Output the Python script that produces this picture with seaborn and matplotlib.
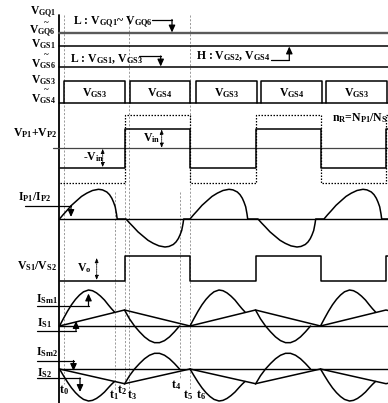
import matplotlib
matplotlib.use("Agg")
import matplotlib.pyplot as plt
import seaborn as sns

# ---------------- data (pixel-space diagram coordinates) ----------------
# switching instants of the half bridges
edges = [59.5, 125, 190, 255.5, 320.5, 386, 388]
vp_state = [-1, 1, -1, 1, -1, 1]          # primary voltage polarity per interval
# gate pulse boxes
box_start = [64, 129.5, 196, 261, 326]
box_end = [125, 190, 257, 322, 387]
box_labels = ["GS3", "GS4", "GS3", "GS4", "GS3"]
# primary current lobes
ip_start = [59.5, 126, 190, 258, 324]
ip_sign = [1, -1, 1, -1, 1]
ip_amp = [29.7, 28, 29.7, 28, 29.7]
ip_dx = [0, 3.5, 7.3, 12, 17.3, 22, 27.3, 33, 39, 43, 47.3, 50, 52.3, 54, 55.7, 57, 57.7]
ip_frac = [0, .14, .28, .46, .62, .76, .87, .96, 1, .98, .91, .82, .70, .57, .41, .17, 0]
# secondary currents: magnetising triangle and resonant lobes
tri_x = [59.5, 124.5, 190, 255.5, 320.5, 386, 388]
tri_frac = [0, 1, 0, 1, 0, 1, 0.97]
main_start = [59.5, 190, 320.5]
small_start = [124.5, 255.5]
ms_dx = [0, 4, 8, 12, 16, 20, 24, 29, 33, 37, 41, 45, 49, 52, 55]
ms_frac = [0, .21, .41, .59, .74, .86, .95, 1, .98, .92, .83, .72, .58, .48, .39]
ss_dx = [0, 5, 10, 15, 20, 25, 30, 35, 40, 45, 50, 55]
ss_frac = [.94, .42, 0, -.34, -.64, -.86, -.98, -.98, -.86, -.64, -.34, 0]
# time markers
t_names = ["0", "1", "2", "3", "4", "5", "6"]
t_label_x = [64, 114, 122, 132, 176, 188, 201]
t_label_y = [390, 395.5, 390, 395.5, 385, 395.5, 395.5]
dash_x = [64, 114.5, 124.5, 129.3, 180, 190]
dash_top = [15, 192, 183, 15, 192, 15]
dash_bot = [384, 390, 384, 389, 379, 389]

# levels
Y_GQ, Y_GS1, Y_GS6 = 33.3, 45.7, 67.3
G_TOP, G_BASE = 80.7, 102.7
VP_ZERO, VP_HI, VP_LO, VP_DHI, VP_DLO = 148.3, 129, 167.7, 115, 182.7
IP_ZERO = 219
VS_HI, VS_LO = 256, 280.7
IS1_ZERO, IS2_ZERO = 326, 369
IS1_TRI, IS2_TRI = 16, 14.7
IS1_AMP, IS2_AMP = 36, 32
IS1_SAMP, IS2_SAMP = 17, 16

# ---------------- style ----------------
sns.set_theme(style="white")
plt.rcParams["font.family"] = ["Liberation Serif", "DejaVu Serif"]
plt.rcParams["font.weight"] = "bold"
plt.rcParams["mathtext.fontset"] = "custom"
plt.rcParams["mathtext.rm"] = "Liberation Serif:bold"
plt.rcParams["mathtext.bf"] = "Liberation Serif:bold"
plt.rcParams["mathtext.it"] = "Liberation Serif:bold"

fig = plt.figure(figsize=(3.88, 4.03), dpi=100)
ax = fig.add_axes([0, 0, 1, 1])
ax.set_xlim(0, 388)
ax.set_ylim(403, 0)
ax.axis("off")

LW = 1.0
FS = 8.5


def line(xs, ys, **kw):
    kw.setdefault("color", "black")
    kw.setdefault("linewidth", LW)
    sns.lineplot(x=xs, y=ys, sort=False, estimator=None, ax=ax, **kw)


def steps(edg, levels):
    xs, ys = [], []
    for i, lv in enumerate(levels):
        xs += [edg[i], edg[i + 1]]
        ys += [lv, lv]
    return xs, ys


def arrow(x, y0, y1, ls="-"):
    ax.annotate("", xy=(x, y1), xytext=(x, y0),
                arrowprops=dict(arrowstyle="-|>,head_length=0.35,head_width=0.16",
                                color="black", lw=0.9, ls=ls, shrinkA=0, shrinkB=0))


def darrow(x, y0, y1):
    ax.annotate("", xy=(x, y1), xytext=(x, y0),
                arrowprops=dict(arrowstyle="<|-|>,head_length=0.22,head_width=0.09",
                                color="black", lw=0.6, ls=(0, (1, 1)), shrinkA=0, shrinkB=0))


def txt(x, y, s, ha="center", fs=FS):
    ax.text(x, y, s, ha=ha, va="center", fontsize=fs, fontweight="bold", color="black")


# vertical time axis
line([59.3, 59.3], [15, 403], linewidth=1.3)

# dashed time markers
for x, a, b in zip(dash_x, dash_top, dash_bot):
    ax.plot([x, x], [a, b], color="#8a8a8a", lw=0.6, ls=(0, (2.5, 2)))

# ---- gate rows ----
line([59, 388], [Y_GQ, Y_GQ], color="#5a5a5a", linewidth=1.7)
line([59, 388], [Y_GS1, Y_GS1], linewidth=1.1)
line([59, 388], [Y_GS6, Y_GS6], linewidth=1.1)
line([59, 388], [G_BASE, G_BASE], linewidth=1.1)
for a, b, lab in zip(box_start, box_end, box_labels):
    line([a, a, b, b], [G_BASE, G_TOP, G_TOP, G_BASE], linewidth=1.1)
    txt((a + b) / 2, 93, r"$\mathbf{V_{%s}}$" % lab)

for y, s in [(12.5, "GQ1"), (31, "GQ6"), (44, "GS1"), (64, "GS6"), (80.5, "GS3"), (99.5, "GS4")]:
    txt(56, y, r"$\mathbf{V_{%s}}$" % s, ha="right", fs=8.3)
for y in [23, 55.5, 90]:
    txt(46.5, y, "~", fs=6.5)

txt(73, 22.5, r"L : $\mathbf{V_{GQ1}}$~ $\mathbf{V_{GQ6}}$", ha="left")
line([152, 172], [19.5, 19.5], linewidth=0.9)
arrow(172, 19.5, 32.5)
txt(70, 59.3, r"L : $\mathbf{V_{GS1}}$, $\mathbf{V_{GS3}}$", ha="left")
line([139, 160.7], [56, 56], linewidth=0.9)
arrow(160.7, 56, 66.5)
txt(196, 56.5, r"H : $\mathbf{V_{GS2}}$, $\mathbf{V_{GS4}}$", ha="left")
line([271, 289.3], [60, 60], linewidth=0.9)
arrow(289.3, 60, 46.5)

# ---- primary voltage ----
line([53, 388], [VP_ZERO, VP_ZERO], color="#444444", linewidth=0.9)
xs, ys = steps(edges, [VP_HI if s > 0 else VP_LO for s in vp_state])
line(xs, ys, linewidth=1.1)
xs, ys = steps(edges, [VP_DHI if s > 0 else VP_DLO for s in vp_state])
line(xs, ys, linewidth=0.9, linestyle=(0, (1.2, 1.2)))
txt(13, 133, r"$\mathbf{V_{P1}}$+$\mathbf{V_{P2}}$", ha="left")
txt(152, 138.5, r"$\mathbf{V_{in}}$")
darrow(161.7, 129.5, 147.8)
txt(94, 157.5, r"-$\mathbf{V_{in}}$")
darrow(102.7, 148.8, 167.2)
txt(332, 118.5, r"$\mathbf{n_R}$=$\mathbf{N_{P1}}$/$\mathbf{N_{S1}}$", ha="left")

# ---- primary current ----
line([59, 388], [IP_ZERO, IP_ZERO], linewidth=1.0)
xs, ys = [], []
for s, sg, amp in zip(ip_start, ip_sign, ip_amp):
    for dx, f in zip(ip_dx, ip_frac):
        xs.append(s + dx)
        ys.append(IP_ZERO - sg * amp * f)
xs.append(388)
ys.append(IP_ZERO)
line(xs, ys, linewidth=1.1)
txt(18, 197, r"$\mathbf{I_{P1}}$/$\mathbf{I_{P2}}$", ha="left")
line([25, 71], [205.7, 205.7], linewidth=0.9)
arrow(71, 205.7, 217)

# ---- secondary voltage ----
xs, ys = steps(edges, [VS_LO if s < 0 else VS_HI for s in vp_state])
line(xs, ys, linewidth=1.1)
txt(17, 266, r"$\mathbf{V_{S1}}$/$\mathbf{V_{S2}}$", ha="left")
txt(84, 268.5, r"$\mathbf{V_o}$")
darrow(96.7, 258, 280)

# ---- secondary currents ----
for zero, sgn, tamp, mamp, samp in [(IS1_ZERO, 1, IS1_TRI, IS1_AMP, IS1_SAMP),
                                    (IS2_ZERO, -1, IS2_TRI, IS2_AMP, IS2_SAMP)]:
    line([59, 388], [zero, zero], linewidth=1.0)
    line(tri_x, [zero - sgn * tamp * f for f in tri_frac], linewidth=1.1)
    for s in main_start:
        line([s + d for d in ms_dx], [zero - sgn * mamp * f for f in ms_frac], linewidth=1.1)
    for s in small_start:
        line([s + d for d in ss_dx], [zero - sgn * samp * f for f in ss_frac], linewidth=1.1)

txt(36, 299, r"$\mathbf{I_{Sm1}}$", ha="left")
line([37, 88.5], [305.7, 305.7], linewidth=0.9)
arrow(88.5, 305.7, 293.5)
txt(37, 323, r"$\mathbf{I_{S1}}$", ha="left")
line([37, 76], [330.5, 330.5], linewidth=0.9)
arrow(76, 330.5, 321)
txt(36, 352.5, r"$\mathbf{I_{Sm2}}$", ha="left")
line([37, 73.5], [360.5, 360.5], linewidth=0.9)
arrow(73.5, 360.5, 371)
txt(37, 373, r"$\mathbf{I_{S2}}$", ha="left")
line([37, 80], [378, 378], linewidth=0.9)
arrow(80, 378, 392)

for n, x, y in zip(t_names, t_label_x, t_label_y):
    txt(x, y, r"$\mathbf{t_{%s}}$" % n)

fig.savefig("out.png", dpi=100, facecolor="white")
